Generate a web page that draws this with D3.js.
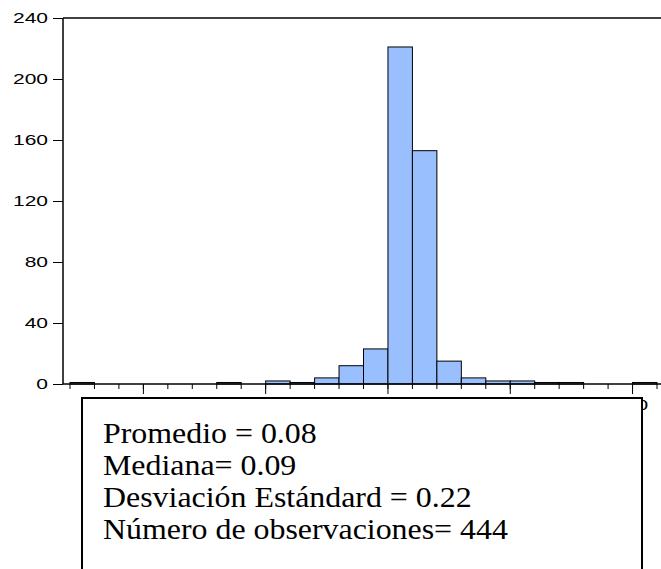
<!DOCTYPE html>
<html><head><meta charset="utf-8">
<script src="https://cdn.jsdelivr.net/npm/d3@7"></script>
<style>html,body{margin:0;padding:0;background:#fff;}svg{display:block;}</style>
</head><body>
<svg id="c" width="661" height="569"></svg>
<script>
const binStarts = [-1.3,-1.2,-1.1,-1.0,-0.9,-0.8,-0.7,-0.6,-0.5,-0.4,-0.3,-0.2,-0.1,0.0,0.1,0.2,0.3,0.4,0.5,0.6,0.7,0.8,0.9,1.0];
const counts    = [1,0,0,0,0,0,1,0,2,1,4,12,23,221,153,15,4,2,2,1,1,0,0,1];
const binWidth = 0.1;
const yTicks = [0,40,80,120,160,200,240];
const xMajorTicks = [-1.0,-0.5,0.0,0.5,1.0];
const statsLines = ["Promedio = 0.08","Mediana= 0.09","Desviación Estándard = 0.22","Número de observaciones= 444"];

const svg = d3.select("#c");
const x = d3.scaleLinear().domain([-1.3,1.1]).range([70,657]);
const y = d3.scaleLinear().domain([0,240]).range([384,18]);
const axisX0 = 63;

// bars
svg.append("g").selectAll("rect").data(binStarts.map((s,i)=>({s,c:counts[i]}))).join("rect")
  .attr("x",d=>x(d.s)).attr("width",d=>x(d.s+binWidth)-x(d.s))
  .attr("y",d=>y(d.c)).attr("height",d=>y(0)-y(d.c))
  .attr("fill","#99bfff").attr("stroke","#000").attr("stroke-width",1);

// top frame line
svg.append("line").attr("x1",axisX0).attr("x2",661).attr("y1",y(240)).attr("y2",y(240)).attr("stroke","#000").attr("stroke-width",1.5);

// y axis
const ya = svg.append("g").attr("transform",`translate(${axisX0},0)`)
  .call(d3.axisLeft(y).tickValues(yTicks).tickSize(10).tickPadding(5).tickFormat(d3.format("d")));
ya.select(".domain").attr("stroke","#000").attr("stroke-width",1.5).attr("d",`M0,${y(240)}V${y(0)}`);
ya.selectAll("text").attr("font-family","Liberation Sans, Arial, sans-serif").attr("font-size",14).attr("fill","#000")
  .attr("x",-10).attr("transform","scale(1.5,1)");
ya.selectAll(".tick line").attr("stroke","#000");

// x axis: minor ticks
const xMinor = binStarts.concat([1.1]);
const xa = svg.append("g").attr("transform",`translate(0,${y(0)})`);
xa.append("line").attr("x1",axisX0).attr("x2",661).attr("stroke","#000").attr("stroke-width",1.5);
xa.selectAll(".mt").data(xMinor).join("line").attr("class","mt")
  .attr("x1",d=>x(d)).attr("x2",d=>x(d)).attr("y1",0).attr("y2",5).attr("stroke","#000");
xa.selectAll(".Mt").data(xMajorTicks).join("line").attr("class","Mt")
  .attr("x1",d=>x(d)).attr("x2",d=>x(d)).attr("y1",0).attr("y2",10).attr("stroke","#000");
xa.selectAll("text").data(xMajorTicks).join("text")
  .attr("transform",d=>`translate(${x(d)+1},26) scale(1.5,1)`).attr("text-anchor","middle")
  .attr("font-family","Liberation Sans, Arial, sans-serif").attr("font-size",14)
  .text(d=>d3.format(".1f")(d));

// stats box (covers x labels)
svg.append("rect").attr("x",82).attr("y",398).attr("width",560).attr("height",200)
  .attr("fill","#fff").attr("stroke","#000").attr("stroke-width",2);
svg.append("g").selectAll("text").data(statsLines).join("text")
  .attr("transform",(d,i)=>`translate(103,${443+i*32}) scale(1.1,1)`)
  .attr("font-family","Liberation Serif, Times New Roman, serif").attr("font-size",29).attr("fill","#000")
  .text(d=>d);
</script>
</body></html>
